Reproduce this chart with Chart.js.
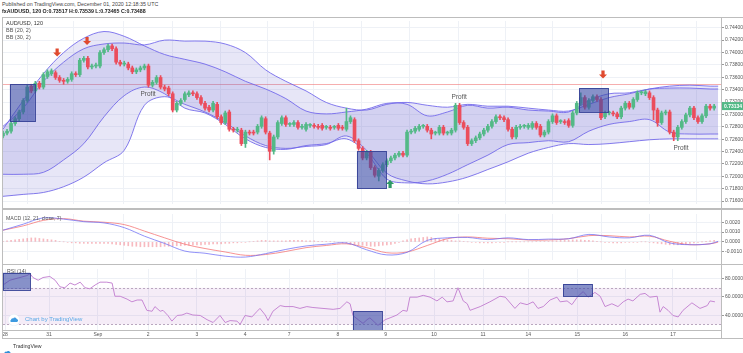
<!DOCTYPE html>
<html><head><meta charset="utf-8">
<script src="https://cdn.jsdelivr.net/npm/chart.js@4.4.0/dist/chart.umd.min.js"></script>
<style>
html,body{margin:0;padding:0;background:#fff;width:743px;height:353px;overflow:hidden;font-family:"Liberation Sans",Arial,sans-serif;}
canvas{position:absolute;left:0;}
.t{position:absolute;white-space:nowrap;color:#555;line-height:1;z-index:5;}
.ln{position:absolute;background:#bdbdbd;z-index:4;}
</style></head><body>
<canvas id="cP" width="743" height="191" style="top:17px"></canvas>
<canvas id="cM" width="743" height="54" style="top:210px"></canvas>
<canvas id="cR" width="743" height="75" style="top:265px"></canvas>

<div class="ln" style="left:2px;top:17px;width:741px;height:1px"></div>
<div class="ln" style="left:2px;top:208px;width:741px;height:2px"></div>
<div class="ln" style="left:2px;top:264px;width:741px;height:1px"></div>
<div class="ln" style="left:2px;top:330px;width:719px;height:1px"></div>
<div class="ln" style="left:2px;top:338px;width:741px;height:1px"></div>
<div class="ln" style="left:2px;top:17px;width:1px;height:322px"></div>
<div class="ln" style="left:721px;top:17px;width:1px;height:322px"></div>

<div class="t" style="left:2px;top:2px;font-size:5.3px;color:#444">Published on TradingView.com, December 01, 2020 12:18:35 UTC</div>
<div class="t" style="left:2px;top:8.5px;font-size:5.3px;font-weight:bold;color:#222">fxAUDUSD, 120 O:0.73517 H:0.73539 L:0.73465 C:0.73488</div>
<div class="t" style="left:6px;top:20.5px;font-size:5.5px;color:#333">AUD/USD, 120</div>
<div class="t" style="left:6px;top:27.5px;font-size:5.5px">BB (20, 2)</div>
<div class="t" style="left:6px;top:35px;font-size:5.5px">BB (30, 2)</div>
<div class="t" style="left:6px;top:215.5px;font-size:5.2px">MACD (12, 21, close, 7)</div>
<div class="t" style="left:7px;top:268.5px;font-size:5.2px">RSI (14)</div>
<div class="t" style="left:8px;top:313px;z-index:6">
<svg width="12" height="12" viewBox="0 0 12 12"><circle cx="6" cy="6" r="5.8" fill="#fff" stroke="#d8e8f5" stroke-width="0.4"/><path d="M3 8 h6 a1.6 1.6 0 0 0 -0.3 -3.1 a2 2 0 0 0 -3.6 -0.4 a1.5 1.5 0 0 0 -2.1 1.6 a1 1 0 0 0 0 1.9z" fill="#3d9ae0"/></svg></div>
<div class="t" style="left:25px;top:315.5px;font-size:6px;color:#59a8e6">Chart by TradingView</div>
<div class="t" style="left:3px;top:343px;z-index:6">
<svg width="9" height="6" viewBox="0 0 9 6"><path d="M0.5 5.5 h7 a1.6 1.6 0 0 0 -0.3 -3.1 a2 2 0 0 0 -3.6 -0.6 a1.5 1.5 0 0 0 -2.2 1.6 a1 1 0 0 0 -0.9 2.1z" fill="#2f8fd8"/></svg></div>
<div class="t" style="left:13px;top:344px;font-size:5.2px;color:#333">TradingView</div>

<script>
// ---------------- DATA ----------------
const dayLabels = ['28','31','Sep','2','3','4','7','8','9','10','11','14','15','16','17'];
const dayIdx = [0.5,11.4,23.5,35.9,48.0,59.9,70.8,82.9,94.7,106.7,118.8,130.0,142.1,154.0,165.8];

const priceTicks = [0.716,0.718,0.720,0.722,0.724,0.726,0.728,0.730,0.732,0.734,0.736,0.738,0.740,0.742,0.744];
const macdTicks = [-0.001,0,0.001,0.002];
const rsiTicks = [40,60,80];
const rsiLevels = [70,30];

const opens = [
0.72652,0.72698,0.72729,0.72853,0.72930,0.73039,0.73224,0.73456,0.73379,0.73503,
0.73441,0.73611,0.73657,0.73673,0.73596,0.73549,0.73534,0.73565,0.73657,0.73642,
0.73874,0.73905,0.73766,0.73781,0.73781,0.73998,0.74044,0.74106,0.74060,0.73843,
0.73812,0.73812,0.73750,0.73688,0.73719,0.73750,0.73781,0.73472,0.73518,0.73596,
0.73441,0.73425,0.73333,0.73070,0.73178,0.73240,0.73317,0.73348,0.73333,0.73271,
0.73178,0.73116,0.73070,0.73162,0.72961,0.72868,0.73039,0.72760,0.72745,0.72745,
0.72528,0.72714,0.72714,0.72714,0.72807,0.72930,0.72698,0.72404,0.72636,0.72853,
0.72946,0.72838,0.72838,0.72868,0.72791,0.72760,0.72822,0.72822,0.72807,0.72822,
0.72791,0.72791,0.72791,0.72822,0.72791,0.72760,0.72884,0.72915,0.72575,0.72451,
0.72296,0.72389,0.72141,0.72002,0.72095,0.72188,0.72250,0.72296,0.72342,0.72373,
0.72342,0.72714,0.72729,0.72760,0.72807,0.72807,0.72745,0.72698,0.72698,0.72791,
0.72698,0.72698,0.72745,0.73147,0.72868,0.72791,0.72528,0.72575,0.72621,0.72683,
0.72745,0.72807,0.72884,0.72961,0.72946,0.72915,0.72760,0.72636,0.72791,0.72807,
0.72791,0.72791,0.72853,0.72807,0.72667,0.72714,0.72884,0.72977,0.72884,0.72884,
0.72899,0.72822,0.73023,0.73178,0.73271,0.73116,0.73224,0.73286,0.73240,0.72961,
0.73023,0.73023,0.73008,0.72961,0.73101,0.73178,0.73116,0.73240,0.73348,0.73333,
0.73348,0.73271,0.73070,0.72868,0.73023,0.73039,0.72714,0.72636,0.72791,0.72884,
0.72992,0.73101,0.72946,0.72884,0.72977,0.73132,0.73101];
const closes = [
0.72698,0.72729,0.72853,0.72930,0.73039,0.73224,0.73441,0.73379,0.73503,0.73441,
0.73642,0.73688,0.73704,0.73596,0.73549,0.73534,0.73565,0.73657,0.73642,0.73874,
0.73905,0.73766,0.73781,0.73797,0.73998,0.74044,0.74106,0.74060,0.73843,0.73812,
0.73828,0.73750,0.73688,0.73719,0.73750,0.73781,0.73472,0.73518,0.73596,0.73441,
0.73410,0.73333,0.73070,0.73178,0.73224,0.73333,0.73348,0.73333,0.73271,0.73178,
0.73101,0.73070,0.73178,0.72961,0.72868,0.73023,0.72760,0.72745,0.72760,0.72528,
0.72714,0.72698,0.72698,0.72807,0.72946,0.72714,0.72404,0.72636,0.72868,0.72946,
0.72838,0.72838,0.72868,0.72791,0.72807,0.72838,0.72822,0.72807,0.72791,0.72776,
0.72791,0.72776,0.72791,0.72776,0.72776,0.72884,0.72946,0.72575,0.72451,0.72296,
0.72389,0.72141,0.72018,0.72095,0.72188,0.72250,0.72296,0.72342,0.72373,0.72342,
0.72714,0.72729,0.72776,0.72807,0.72807,0.72745,0.72683,0.72698,0.72791,0.72698,
0.72698,0.72745,0.73147,0.72868,0.72791,0.72528,0.72575,0.72621,0.72683,0.72745,
0.72807,0.72884,0.72961,0.72946,0.72915,0.72760,0.72636,0.72791,0.72807,0.72807,
0.72822,0.72853,0.72791,0.72667,0.72714,0.72884,0.72977,0.72868,0.72884,0.72868,
0.72822,0.73023,0.73178,0.73271,0.73116,0.73224,0.73286,0.73240,0.72946,0.73023,
0.73023,0.73008,0.72961,0.73101,0.73178,0.73116,0.73240,0.73348,0.73348,0.73364,
0.73271,0.73070,0.72868,0.73023,0.73039,0.72714,0.72636,0.72791,0.72884,0.72992,
0.73101,0.72946,0.72884,0.72977,0.73132,0.73101,0.73134];
const highs = [
0.72729,0.72760,0.72884,0.72961,0.73070,0.73255,0.73472,0.73487,0.73534,0.73534,
0.73673,0.73719,0.73735,0.73704,0.73627,0.73580,0.73596,0.73688,0.73688,0.73905,
0.73936,0.73936,0.73812,0.73828,0.74029,0.74075,0.74137,0.74137,0.74091,0.73874,
0.73859,0.73843,0.73781,0.73750,0.73781,0.73812,0.73812,0.73549,0.73627,0.73627,
0.73472,0.73456,0.73364,0.73209,0.73255,0.73364,0.73379,0.73379,0.73364,0.73302,
0.73209,0.73147,0.73209,0.73193,0.72992,0.73054,0.73070,0.72791,0.72791,0.72776,
0.72745,0.72745,0.72745,0.72838,0.72977,0.72961,0.72729,0.72667,0.72899,0.72977,
0.72977,0.72868,0.72899,0.72899,0.72838,0.72868,0.72853,0.72853,0.72838,0.72853,
0.72822,0.72822,0.72822,0.72853,0.72822,0.73101,0.72977,0.72946,0.72605,0.72482,
0.72420,0.72420,0.72172,0.72126,0.72219,0.72281,0.72327,0.72373,0.72404,0.72404,
0.72745,0.72760,0.72807,0.72838,0.72838,0.72838,0.72776,0.72729,0.72822,0.72822,
0.72729,0.72776,0.73178,0.73178,0.72899,0.72822,0.72605,0.72652,0.72714,0.72776,
0.72838,0.72915,0.72992,0.72992,0.72977,0.72946,0.72791,0.72822,0.72838,0.72838,
0.72853,0.72884,0.72884,0.72838,0.72745,0.72915,0.73008,0.73008,0.72915,0.72915,
0.72930,0.73054,0.73209,0.73348,0.73302,0.73255,0.73317,0.73317,0.73271,0.73054,
0.73054,0.73054,0.73039,0.73132,0.73209,0.73209,0.73271,0.73379,0.73379,0.73394,
0.73379,0.73302,0.73101,0.73054,0.73070,0.73070,0.72745,0.72822,0.72915,0.73023,
0.73132,0.73132,0.72977,0.73008,0.73162,0.73162,0.73162];
const lows = [
0.72621,0.72667,0.72698,0.72822,0.72899,0.73008,0.73193,0.73348,0.73348,0.73410,
0.73410,0.73580,0.73627,0.73565,0.73518,0.73487,0.73503,0.73534,0.73611,0.73611,
0.73843,0.73735,0.73735,0.73750,0.73750,0.73967,0.74013,0.74029,0.73812,0.73781,
0.73781,0.73719,0.73657,0.73657,0.73688,0.73719,0.73441,0.73441,0.73487,0.73410,
0.73379,0.73302,0.73039,0.73039,0.73147,0.73209,0.73286,0.73302,0.73240,0.73147,
0.73070,0.73039,0.73039,0.72930,0.72838,0.72838,0.72729,0.72714,0.72714,0.72497,
0.72466,0.72667,0.72667,0.72683,0.72776,0.72683,0.72265,0.72358,0.72605,0.72822,
0.72807,0.72807,0.72807,0.72760,0.72760,0.72729,0.72791,0.72776,0.72760,0.72745,
0.72760,0.72745,0.72760,0.72745,0.72745,0.72729,0.72853,0.72544,0.72420,0.72265,
0.72265,0.72110,0.71987,0.71925,0.72064,0.72157,0.72219,0.72265,0.72312,0.72312,
0.72312,0.72683,0.72698,0.72729,0.72776,0.72714,0.72605,0.72667,0.72667,0.72667,
0.72667,0.72667,0.72714,0.72838,0.72760,0.72497,0.72497,0.72544,0.72590,0.72652,
0.72714,0.72776,0.72853,0.72915,0.72884,0.72729,0.72605,0.72605,0.72760,0.72776,
0.72760,0.72760,0.72760,0.72636,0.72636,0.72683,0.72853,0.72838,0.72853,0.72838,
0.72791,0.72791,0.72992,0.73147,0.73085,0.73085,0.73193,0.73209,0.72915,0.72930,
0.72992,0.72977,0.72930,0.72930,0.73070,0.73085,0.73085,0.73209,0.73317,0.73302,
0.73240,0.72915,0.72807,0.72838,0.72992,0.72683,0.72575,0.72575,0.72760,0.72853,
0.72961,0.72915,0.72853,0.72853,0.72946,0.73070,0.73070];

// Bollinger bands, read at these bar indices
const bandIdx = [0,5,10,15,20,25,30,35,40,45,50,55,60,65,70,75,80,85,90,95,100,105,110,115,120,125,130,135,140,145,150,155,160,165,170,175,177];
const bb20Upper = [0.72760,0.73224,0.73657,0.73998,0.74230,0.74338,0.74261,0.74106,0.73967,0.73889,0.73812,0.73688,0.73534,0.73410,0.73255,0.73054,0.73008,0.73039,0.73085,0.73178,0.73162,0.72977,0.73039,0.73147,0.73101,0.73116,0.73070,0.73054,0.73039,0.73224,0.73333,0.73348,0.73410,0.73425,0.73425,0.73410,0.73410];
const bb20Lower = [0.72033,0.72033,0.72064,0.72265,0.72528,0.72961,0.73302,0.73441,0.73333,0.73101,0.73023,0.72838,0.72605,0.72466,0.72435,0.72497,0.72528,0.72605,0.72373,0.71956,0.71894,0.71925,0.72033,0.72188,0.72342,0.72513,0.72544,0.72575,0.72559,0.72729,0.72838,0.72884,0.72915,0.72714,0.72683,0.72683,0.72683];
const bb30Upper = [0.72807,0.73101,0.73534,0.73843,0.74060,0.74137,0.74152,0.74122,0.74199,0.74183,0.74183,0.74137,0.73998,0.73719,0.73534,0.73379,0.73193,0.73101,0.73070,0.73162,0.73193,0.73147,0.73116,0.73162,0.73132,0.73132,0.73101,0.73070,0.73054,0.73162,0.73271,0.73333,0.73410,0.73456,0.73472,0.73456,0.73456];
const bb30Lower = [0.71677,0.71708,0.71739,0.71832,0.71987,0.72219,0.72420,0.73147,0.73286,0.73162,0.73039,0.72868,0.72652,0.72497,0.72451,0.72482,0.72513,0.72652,0.72420,0.72049,0.71925,0.71878,0.71909,0.71987,0.72110,0.72234,0.72373,0.72466,0.72528,0.72513,0.72528,0.72559,0.72590,0.72605,0.72605,0.72605,0.72605];

// MACD lines read at bandIdx
const macdLine = [0.00119,0.00180,0.00245,0.00232,0.00206,0.00193,0.00145,0.00058,-0.00016,-0.00094,-0.00116,-0.00146,-0.00155,-0.00120,-0.00077,-0.00042,-0.00024,-0.00011,-0.00081,-0.00133,-0.00107,0.00015,0.00041,0.00045,0.00023,0.00041,0.00023,0.00028,0.00032,0.00076,0.00050,0.00041,0.00067,-0.00011,-0.00029,-0.00020,0.00006];
const signalLine = [0.00119,0.00163,0.00219,0.00237,0.00211,0.00200,0.00176,0.00110,0.00041,-0.00024,-0.00068,-0.00103,-0.00137,-0.00129,-0.00098,-0.00059,-0.00037,-0.00020,-0.00059,-0.00111,-0.00103,-0.00037,0.00032,0.00050,0.00037,0.00032,0.00019,0.00019,0.00032,0.00063,0.00063,0.00050,0.00058,0.00006,-0.00029,-0.00020,-0.00003];
const macdHist = [0.00005,0.0001,
0.00015,0.0002,0.00025,0.0003,0.00035,0.0004,0.0004,0.00035,0.0003,0.00025,0.0002,0.00015,
0.00005,0,-0.00005,
-0.0001,-0.0001,-0.00015,-0.00015,-0.00015,-0.00015,-0.00015,-0.00015,-0.00015,-0.00015,-0.0002,
-0.00025,-0.0003,-0.00035,-0.0004,-0.00045,-0.00045,-0.0005,-0.0005,-0.0005,-0.0005,-0.0005,-0.0005,-0.00045,-0.00045,
-0.0004,-0.0004,-0.0004,-0.00035,-0.00035,-0.0003,-0.0003,-0.0003,-0.00025,-0.00025,-0.0002,-0.0002,-0.0002,-0.00015,-0.00015,-0.0001,-0.0001,-0.00005,-0.00005,0,0.00005,
0.0001,0.00015,0.00015,0.0001,
0.0001,0.0001,0.0001,0.0001,0.00015,0.00015,0.00015,0.00015,0.0001,0.0001,0.0001,0.00005,0.00005,0.00005,0.00005,0,
-0.00005,-0.0001,-0.00015,-0.0002,-0.00025,-0.0003,-0.00035,-0.0004,-0.00045,
-0.00045,-0.0004,-0.00035,-0.0003,-0.00025,-0.00015,
-0.00005,0.0001,0.0002,0.0003,0.00035,0.0004,0.00045,0.0005,0.00045,
0.00035,0.0003,0.00025,0.0002,0.00015,
0.0001,0.0001,0.00005,0,
-0.00005,-0.00005,-0.0001,-0.0001,-0.0001,-0.0001,-0.00005,-0.00005,-0.00005,
0,0,0,0,0,0,0,0.00005,0.00005,0.00005,0.00005,0.0001,
0.0001,0.00015,0.00015,0.00015,0.0002,0.0002,0.0002,0.00015,0.00015,0.0001,0.00005,
0,-0.00005,-0.00005,-0.0001,-0.0001,-0.0001,-0.00005,-0.00005,-0.00005,-0.00005,0,
0,-0.00005,-0.0001,
-0.00015,-0.0002,-0.00025,-0.0003,-0.0003,-0.0003,-0.00025,-0.0002,-0.00015,
-0.0001,-0.00005,0,
0.00005,0.0001,0.00015];

// RSI read at these bar positions
const rsiIdx = [0,1.7,4.2,5.9,6.7,7.4,8.7,9.9,11.6,12.9,14.1,15.3,16.6,17.8,19.1,20.3,21.5,22.8,24,25.7,27,27.7,29,30.7,31.9,33.2,34.4,35.6,36.9,37.6,38.9,39.6,40.8,41.8,43.1,44.3,45.5,47,48.8,50.5,52,53.7,55,56.2,57.9,58.7,59.9,61.6,62.9,63.6,64.9,65.6,66.8,68.6,69.8,71.8,73.5,75.2,76.7,79.2,81.7,83.4,85.1,85.9,86.6,87.9,89.1,90.1,90.8,92.8,94.6,95.8,97.5,99,100,100.7,102.5,104,105.7,107.4,108.7,109.9,111.4,112.6,113.9,114.9,115.6,118.1,120.5,123,124.3,126.7,128,129.7,131.2,132.4,133.7,135.4,137.1,137.9,139.6,140.8,142.3,143.6,144.8,146.5,147.8,149,150.7,152.2,153.5,154.7,155.9,157.7,158.9,160.1,161.9,162.6,163.4,164.6,165.8,167.1,168.3,170.5,172.5,174.3,175,176.2];
const rsiVal = [73.1,78.3,81.3,83.4,85.4,81.3,78.3,81.3,82.4,78.3,71.1,70.1,75.2,73.1,76.2,70.1,69.0,73.1,76.2,76.2,75.2,60.8,60.8,57.7,54.7,56.7,56.7,45.4,44.4,49.5,44.4,45.4,39.8,33.6,39.8,40.3,42.4,40.3,39.8,35.2,32.1,39.8,32.1,34.2,33.6,30.1,39.8,38.2,44.4,47.5,40.3,34.2,44.4,50.6,49.5,49.5,47.5,49.5,48.5,47.5,46.5,47.5,54.7,52.6,39.8,35.2,31.1,35.2,37.2,29.0,35.2,37.2,40.3,45.4,44.4,59.8,59.8,61.8,59.8,55.7,59.8,54.7,55.7,70.1,55.7,52.6,45.4,49.5,54.7,60.8,59.8,47.5,53.6,51.6,54.7,47.5,49.5,56.7,59.8,54.7,55.7,51.6,60.8,65.9,59.8,65.0,60.8,49.5,52.6,49.5,54.7,57.7,55.7,62.9,63.9,59.8,60.8,43.4,49.5,45.4,39.8,38.2,45.4,53.6,47.5,50.6,55.7,54.7];

// Drawings (bar index range, value range)
const priceBoxes = [[1.7,7.9,0.73487,0.72884],[87.6,94.8,0.72404,0.71801],[142.6,149.8,0.73425,0.73039]];
const rsiBoxes = [[0,6.7,86.5,68.0],[86.6,93.8,44.4,20],[138.6,145.8,74.2,60.8]];
const arrowsDown = [[13.4,0.73936],[20.8,0.74122],[148.5,0.73580]];
const arrowsUp = [[95.8,0.71940]];
const profitLabels = [[35.9,0.73333],[112.9,0.73271],[167.8,0.72451]];
const closeLevel = 0.73488;
const lastPrice = 0.73134;

// ---------------- CHARTS ----------------
const FONT = '"Liberation Sans", Arial, sans-serif';
const GREEN = '#53b987', RED = '#eb4d5c';
const GRID = '#eef1f6';
const BAND_LINE = 'rgba(110,100,235,0.85)';
const BAND_FILL = 'rgba(115,105,210,0.17)';
const X_MIN = 0, X_MAX = 177.7;

function xScale(show){
  return {
    type:'linear', min:X_MIN, max:X_MAX, offset:false,
    afterBuildTicks: s => { s.ticks = dayIdx.map(v=>({value:v})); },
    ticks:{display:show, autoSkip:false, maxRotation:0, padding:1.5, color:'#555', font:{size:5, family:FONT},
      callback:(v,i)=>dayLabels[i]},
    grid:{color:GRID, drawTicks:false, lineWidth:1},
    border:{display:false},
    afterFit: s => { s.height = show ? 10 : 0; }
  };
}
function yScale(min,max,ticks,dec){
  return {
    position:'right', min:min, max:max,
    afterBuildTicks: s => { s.ticks = ticks.map(v=>({value:v})); },
    ticks:{color:'#555', font:{size:5, family:FONT}, padding:1, autoSkip:false, callback:v=>Number(v).toFixed(dec)},
    grid:{color:GRID, tickColor:'#999', tickLength:3, lineWidth:1},
    border:{display:false},
    afterFit: s => { s.width = 22; }
  };
}
const base = {responsive:false, animation:false, devicePixelRatio:1,
  layout:{padding:{left:3,right:0,top:0,bottom:0}},
  plugins:{legend:{display:false}, tooltip:{enabled:false}}};

const candleColors = closes.map((c,i)=> c >= opens[i] ? GREEN : RED);
const bodies = closes.map((c,i)=>({x:i, y:[opens[i], c]}));
const wicks = highs.map((h,i)=>({x:i, y:[lows[i], h]}));
const pts = arr => arr.map((v,i)=>({x:bandIdx[i], y:v}));

function arrow(ctx,px,py,dir,color){
  ctx.fillStyle=color; ctx.beginPath();
  ctx.moveTo(px,py);
  ctx.lineTo(px-4,py-4*dir); ctx.lineTo(px-1.6,py-4*dir); ctx.lineTo(px-1.6,py-8*dir);
  ctx.lineTo(px+1.6,py-8*dir); ctx.lineTo(px+1.6,py-4*dir); ctx.lineTo(px+4,py-4*dir);
  ctx.closePath(); ctx.fill();
}
function boxes(ctx,x,y,list,a){
  ctx.save();
  ctx.beginPath(); ctx.rect(a.left,a.top,a.right-a.left,a.bottom-a.top); ctx.clip();
  list.forEach(b=>{
    const x1=x.getPixelForValue(b[0]), x2=x.getPixelForValue(b[1]);
    const y1=y.getPixelForValue(b[2]), y2=y.getPixelForValue(b[3]);
    ctx.fillStyle='rgba(62,78,168,0.62)';
    ctx.fillRect(x1,y1,x2-x1,y2-y1);
    ctx.strokeStyle='rgba(52,64,150,0.9)'; ctx.lineWidth=1;
    ctx.strokeRect(Math.round(x1)+0.5,Math.round(y1)+0.5,Math.round(x2-x1),Math.round(y2-y1));
  });
  ctx.restore();
}

const pricePlugin = {
  id:'priceAnno',
  beforeDatasetsDraw(chart){
    const {ctx, chartArea:a, scales:{x,y}} = chart;
    const yc = Math.round(y.getPixelForValue(closeLevel))+0.5;
    ctx.save(); ctx.strokeStyle='rgba(240,120,120,0.6)'; ctx.lineWidth=1;
    ctx.beginPath(); ctx.moveTo(a.left,yc); ctx.lineTo(a.right,yc); ctx.stroke(); ctx.restore();
  },
  afterDatasetsDraw(chart){
    const {ctx, chartArea:a, scales:{x,y}} = chart;
    boxes(ctx,x,y,priceBoxes,a);
    ctx.save();
    arrowsDown.forEach(p=>arrow(ctx,x.getPixelForValue(p[0]),y.getPixelForValue(p[1]),1,'#e04a2f'));
    arrowsUp.forEach(p=>arrow(ctx,x.getPixelForValue(p[0]),y.getPixelForValue(p[1]),-1,'#2f9a66'));
    ctx.fillStyle='#555'; ctx.font='6.5px '+FONT; ctx.textAlign='center'; ctx.textBaseline='middle';
    profitLabels.forEach(p=>ctx.fillText('Profit',x.getPixelForValue(p[0]),y.getPixelForValue(p[1])));
    ctx.restore();
  },
  afterDraw(chart){
    const {ctx, chartArea:a, scales:{y}} = chart;
    const yp = y.getPixelForValue(lastPrice);
    ctx.save(); ctx.fillStyle=GREEN; ctx.fillRect(a.right+1,yp-4,21,8);
    ctx.fillStyle='#fff'; ctx.font='bold 5px '+FONT; ctx.textBaseline='middle'; ctx.textAlign='left';
    ctx.fillText(lastPrice.toFixed(5),a.right+3,yp+0.3); ctx.restore();
  }
};

new Chart(document.getElementById('cP'), {
  type:'line',
  data:{datasets:[
    {type:'bar', data:bodies, backgroundColor:candleColors, barThickness:3, grouped:false, minBarLength:1, borderWidth:0, order:0},
    {type:'bar', data:wicks, backgroundColor:candleColors, barThickness:1, grouped:false, borderWidth:0, order:1},
    {data:pts(bb20Upper), borderColor:BAND_LINE, borderWidth:1, pointRadius:0, tension:0.35, fill:'+1', backgroundColor:BAND_FILL, order:2},
    {data:pts(bb20Lower), borderColor:BAND_LINE, borderWidth:1, pointRadius:0, tension:0.35, fill:false, order:2},
    {data:pts(bb30Upper), borderColor:BAND_LINE, borderWidth:1, pointRadius:0, tension:0.35, fill:'+1', backgroundColor:BAND_FILL, order:3},
    {data:pts(bb30Lower), borderColor:BAND_LINE, borderWidth:1, pointRadius:0, tension:0.35, fill:false, order:3}
  ]},
  options:Object.assign({}, base, {scales:{x:xScale(false), y:yScale(0.71553,0.74508,priceTicks,5)}}),
  plugins:[pricePlugin]
});

new Chart(document.getElementById('cM'), {
  type:'line',
  data:{datasets:[
    {type:'bar', data:macdHist.map((v,i)=>({x:i,y:v})), backgroundColor:'rgba(240,130,140,0.55)', barThickness:1, grouped:false, borderWidth:0, order:2},
    {data:pts(macdLine), borderColor:'rgba(110,110,245,0.75)', borderWidth:1, pointRadius:0, tension:0.35, fill:false, order:0},
    {data:pts(signalLine), borderColor:'rgba(245,120,120,0.8)', borderWidth:1, pointRadius:0, tension:0.35, fill:false, order:1}
  ]},
  options:Object.assign({}, base, {scales:{x:xScale(false), y:yScale(-0.00185,0.00284,macdTicks,4)}})
});

const rsiPlugin = {
  id:'rsiAnno',
  beforeDatasetsDraw(chart){
    const {ctx, chartArea:a, scales:{y}} = chart;
    const y1=y.getPixelForValue(rsiLevels[0]), y2=y.getPixelForValue(rsiLevels[1]);
    ctx.save(); ctx.fillStyle='rgba(160,70,175,0.1)'; ctx.fillRect(a.left,y1,a.right-a.left,y2-y1);
    ctx.strokeStyle='#b9a7bf'; ctx.setLineDash([2,2]); ctx.lineWidth=1;
    [y1,y2].forEach(v=>{ctx.beginPath(); ctx.moveTo(a.left,Math.round(v)+0.5); ctx.lineTo(a.right,Math.round(v)+0.5); ctx.stroke();});
    ctx.restore();
  },
  afterDatasetsDraw(chart){
    const {ctx, chartArea:a, scales:{x,y}} = chart;
    boxes(ctx,x,y,rsiBoxes,a);
  }
};
new Chart(document.getElementById('cR'), {
  type:'line',
  data:{datasets:[
    {data:rsiVal.map((v,i)=>({x:rsiIdx[i], y:v})), borderColor:'#c687d3', borderWidth:1, pointRadius:0, tension:0, fill:false}
  ]},
  options:Object.assign({}, base, {scales:{x:xScale(true), y:yScale(23.9,90.6,rsiTicks,4)}}),
  plugins:[rsiPlugin]
});
</script>
</body></html>
